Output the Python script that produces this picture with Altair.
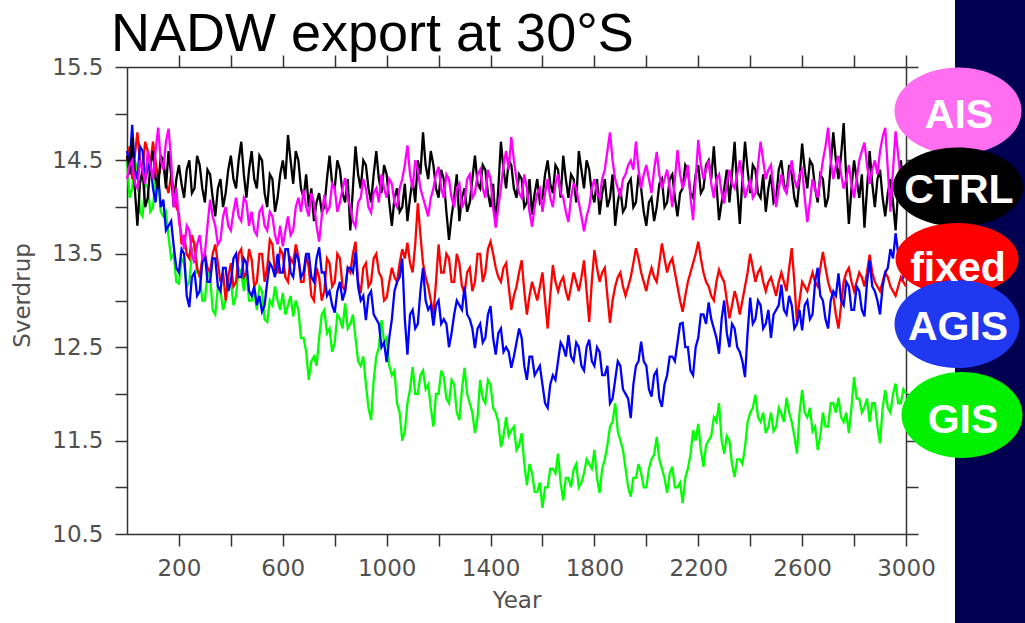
import altair as alt
import pandas as pd

# ---------------- data (Sverdrup, every 10 model years) ----------------
YEARS = list(range(0, 3001, 10))

CTRL = [
    14.55, 14.35, 14.75, 14.2, 13.8, 14.25, 14.4, 14.0, 14.1, 14.45, 14.6, 14.3, 14.2, 14.55, 14.5, 14.2, 14.6, 14.35, 14.0, 14.3,
    14.45, 14.25, 14.1, 14.4, 14.5, 14.15, 14.2, 14.55, 14.45, 14.2, 14.05, 14.4, 14.35, 14.1, 13.9, 14.2, 14.3, 14.0, 14.15, 14.4,
    14.55, 14.3, 14.2, 14.5, 14.7, 14.35, 14.1, 14.4, 14.6, 14.3, 14.2, 14.55, 14.5, 14.15, 14.0, 14.35, 14.3, 13.95, 14.1, 14.35,
    14.5, 14.3, 14.77, 14.5, 14.25, 14.6, 14.5, 14.2, 14.1, 14.35, 14.0, 14.2, 13.85, 14.05, 14.15, 13.95, 14.0, 14.3, 14.55, 14.25,
    14.2, 14.5, 14.4, 14.15, 14.05, 14.3, 13.75, 14.2, 14.65, 14.35, 14.2, 14.5, 14.45, 14.2, 14.05, 14.35, 14.6, 14.3, 14.15, 14.45,
    14.35, 14.05, 13.8, 14.1, 14.2, 13.95, 14.0, 14.25, 13.85, 14.1, 14.3, 14.05, 14.5, 14.35, 14.8, 14.45, 14.3, 14.6, 14.45, 14.2,
    14.1, 14.4, 14.3, 13.95, 13.65, 13.9, 14.1, 14.35, 13.85, 14.1, 14.2, 13.95, 14.05, 14.3, 14.55, 14.25, 14.2, 14.45, 14.4, 14.15,
    14.0, 14.25, 13.8, 14.2, 14.7, 14.4, 14.2, 14.5, 14.45, 14.2, 14.1, 14.35, 14.3, 14.0, 14.05, 14.3, 13.92, 14.15, 14.3, 14.05,
    14.1, 14.35, 14.5, 14.25, 14.15, 14.45, 14.4, 14.1, 14.55, 14.3, 14.1, 14.35, 14.3, 14.05, 14.6, 14.4, 14.2, 14.5, 14.4, 14.15,
    14.05, 14.3, 13.92, 14.15, 14.3, 14.0, 14.1, 14.35, 13.8, 14.05, 14.2, 13.95, 14.0, 14.25, 14.3, 14.0, 14.05, 14.35, 14.2, 13.95,
    13.8, 14.05, 14.1, 13.85, 14.0, 14.25, 14.3, 14.0, 14.05, 14.3, 14.35, 14.1, 13.9, 14.15, 14.2, 14.45, 14.4, 14.15, 14.1, 14.35,
    14.45, 14.15, 14.2, 14.45, 14.5, 14.3, 14.65, 14.25, 13.86, 14.05, 14.2, 14.4, 14.05, 14.35, 14.7, 14.2, 13.82, 14.3, 14.7, 14.4,
    14.15, 14.45, 14.4, 14.15, 14.1, 14.35, 13.95, 14.2, 14.35, 14.05, 14.1, 14.4, 14.5, 14.25, 14.15, 14.45, 14.35, 14.1, 14.0, 14.3,
    14.68, 14.4, 14.2, 14.5, 14.45, 14.2, 14.05, 14.35, 14.3, 14.0, 14.1, 14.45, 14.8, 14.5, 14.3, 14.55, 14.9, 14.3, 13.82, 14.2,
    14.5, 14.3, 14.1, 14.35, 13.78, 14.2, 14.6, 14.25, 14.0, 14.3, 14.4, 14.1, 13.9, 14.15, 14.3, 14.05, 13.75, 14.2, 14.5, 14.25,
    14.2,
]

AIS = [
    14.3, 14.45, 14.5, 14.25, 14.2, 14.5, 14.4, 14.25, 14.6, 14.45, 14.3, 14.6, 14.85, 14.5, 14.4, 14.7, 14.84, 14.5, 14.0, 14.2,
    13.85, 13.7, 13.55, 13.8, 13.75, 13.5, 13.4, 13.6, 13.7, 13.45, 13.5, 13.8, 14.08, 13.9, 13.8, 13.6, 13.65, 13.9, 14.0, 13.8,
    13.75, 13.95, 14.1, 13.9, 13.85, 14.1, 14.05, 13.8, 13.95, 13.75, 13.7, 13.95, 14.0, 13.8, 13.75, 13.95, 13.9, 13.7, 13.6, 13.8,
    13.58, 13.75, 13.9, 13.7, 13.75, 14.0, 14.1, 13.95, 14.18, 14.0, 13.9, 14.15, 14.05, 13.8, 13.63, 13.9, 14.13, 13.95, 14.0, 14.25,
    14.2, 13.95, 14.05, 14.2, 14.31, 14.1, 14.0, 13.85, 13.79, 14.05, 14.1, 14.3, 14.2, 14.0, 13.94, 14.15, 14.2, 14.05, 14.35, 14.2,
    14.1, 14.3, 14.25, 14.05, 14.0, 14.2, 14.3, 14.45, 14.66, 14.35, 14.2, 14.5, 14.4, 14.2, 14.1, 14.0, 13.9, 14.1, 14.2, 14.35,
    14.43, 14.2, 14.1, 14.35, 14.3, 14.1, 14.0, 14.2, 14.25, 14.0, 14.06, 14.3, 14.35, 14.1, 14.15, 14.35, 14.4, 14.2, 14.1, 14.4,
    14.3, 14.0, 13.78, 14.0, 14.2, 14.45, 14.6, 14.4, 14.75, 14.5, 14.3, 14.15, 14.1, 14.35, 14.2, 13.95, 13.79, 14.0, 14.15, 14.2,
    13.95, 14.15, 14.3, 14.1, 14.0, 14.25, 14.35, 14.15, 14.1, 13.95, 13.84, 14.1, 14.25, 14.2, 14.05, 13.9, 13.74, 13.9, 14.0, 14.2,
    14.3, 14.15, 14.1, 14.3, 14.4, 14.6, 14.8, 14.5, 14.3, 14.2, 14.11, 14.3, 14.35, 14.45, 14.5, 14.4, 14.7, 14.4, 14.2, 14.35,
    14.45, 14.3, 14.15, 14.4, 14.59, 14.35, 14.2, 14.3, 14.4, 14.2, 14.0, 14.3, 14.61, 14.35, 14.2, 14.3, 14.45, 14.1, 13.86, 14.3,
    14.72, 14.45, 14.3, 14.4, 14.5, 14.25, 14.1, 14.3, 14.35, 14.15, 14.04, 14.25, 14.4, 14.25, 14.2, 14.35, 14.5, 14.3, 14.1, 14.2,
    14.3, 14.1, 14.15, 14.45, 14.7, 14.5, 14.3, 14.4, 14.45, 14.2, 14.0, 14.2, 14.35, 14.2, 14.15, 14.35, 14.5, 14.3, 14.2, 14.35,
    14.4, 14.1, 13.84, 14.05, 14.3, 14.2, 14.1, 14.3, 14.5, 14.65, 14.85, 14.5, 14.3, 14.45, 14.55, 14.35, 14.2, 14.3, 14.45, 14.25,
    14.1, 14.3, 14.5, 14.6, 14.69, 14.45, 14.25, 14.4, 14.5, 14.35, 14.6, 14.75, 14.85, 14.4, 13.95, 14.4, 14.81, 14.55, 14.3, 14.35,
    14.45,
]

FIXED = [
    14.5, 14.65, 14.3, 14.55, 14.8, 14.5, 14.4, 14.7, 14.6, 14.45, 14.7, 14.5, 14.3, 14.45, 14.5, 14.25, 14.15, 14.35, 14.2, 14.0,
    13.93, 13.6, 13.7, 13.5, 13.45, 13.7, 13.6, 13.35, 13.25, 13.45, 13.5, 13.35, 13.3, 13.5, 13.6, 13.4, 13.2, 13.3, 13.0, 13.25,
    13.4, 13.15, 13.2, 13.5, 13.55, 13.25, 13.3, 13.55, 13.44, 13.15, 13.2, 13.5, 13.5, 13.2, 13.35, 13.65, 13.6, 13.3, 13.3, 13.55,
    13.5, 13.25, 13.2, 13.45, 13.4, 13.6, 13.47, 13.2, 13.2, 13.5, 13.35, 13.05, 13.0, 13.35, 13.25, 13.0, 13.1, 13.45, 13.4, 13.15,
    13.2, 13.5, 13.45, 13.15, 13.1, 13.35, 13.3, 13.5, 13.63, 13.2, 13.08, 13.35, 13.4, 13.15, 13.2, 13.45, 13.5, 13.3, 13.25, 13.0,
    13.03, 13.2, 13.35, 13.25, 13.2, 13.4, 13.55, 13.45, 13.62, 13.4, 13.3, 13.6, 14.04, 13.7, 13.4, 13.25, 13.15, 13.0, 12.85, 13.2,
    13.6, 13.3, 13.3, 13.5, 13.45, 13.2, 13.2, 13.5, 13.4, 13.15, 13.08, 13.3, 13.35, 13.1, 13.2, 13.5, 13.5, 13.2, 13.3, 13.55,
    13.63, 13.5, 13.35, 13.25, 13.2, 13.35, 13.4, 13.15, 12.9, 13.05, 13.15, 13.3, 13.43, 13.1, 12.85, 13.05, 13.2, 13.1, 13.0, 13.15,
    13.3, 13.0, 12.7, 13.05, 13.38, 13.2, 13.1, 13.2, 13.25, 13.1, 13.0, 13.15, 13.3, 13.2, 13.1, 13.25, 13.43, 13.1, 12.77, 13.2,
    13.54, 13.35, 13.2, 13.3, 13.35, 13.05, 12.76, 13.0, 13.15, 13.25, 13.3, 13.15, 13.05, 13.15, 13.25, 13.4, 13.56, 13.45, 13.3, 13.2,
    13.1, 13.25, 13.35, 13.25, 13.2, 13.4, 13.61, 13.45, 13.3, 13.4, 13.45, 13.3, 13.15, 13.0, 12.88, 13.05, 13.2, 13.3, 13.4, 13.5,
    13.63, 13.45, 13.3, 13.2, 13.15, 13.05, 13.0, 13.2, 13.33, 13.25, 13.2, 13.0, 12.81, 12.95, 13.1, 13.0, 12.85, 13.0, 13.15, 13.3,
    13.5, 13.35, 13.2, 13.3, 13.35, 13.2, 13.1, 13.2, 13.25, 13.15, 13.05, 13.2, 13.3, 13.2, 13.1, 13.35, 13.56, 13.2, 12.77, 13.0,
    13.2, 13.15, 13.1, 13.2, 13.3, 13.2, 13.15, 13.35, 13.52, 13.35, 13.2, 13.1, 13.05, 12.85, 12.7, 12.95, 13.2, 13.3, 13.35, 13.2,
    13.1, 13.2, 13.3, 13.25, 13.15, 13.3, 13.49, 13.3, 13.2, 13.15, 13.1, 13.2, 13.3, 13.25, 13.15, 13.1, 13.05, 13.15, 13.25, 13.2,
    13.15,
]

AGIS = [
    14.6, 14.45, 14.88, 14.4, 14.3, 14.65, 14.6, 14.3, 14.4, 14.5, 14.2, 14.05, 14.35, 14.0, 14.08, 13.75, 13.8, 13.85, 13.58, 13.35,
    13.3, 13.55, 13.5, 13.05, 12.93, 13.25, 13.3, 13.05, 13.1, 13.4, 13.5, 13.2, 13.2, 13.45, 13.45, 13.15, 13.1, 13.35, 13.35, 13.1,
    13.2, 13.45, 13.5, 13.25, 13.25, 13.45, 13.4, 13.1, 13.05, 13.15, 12.95, 13.05, 12.88, 12.95, 13.2, 13.4, 13.35, 13.25, 13.5, 13.3,
    13.3, 13.55, 13.55, 13.3, 13.25, 13.5, 13.45, 13.25, 13.3, 13.5, 13.5, 13.25, 13.2, 13.45, 13.57, 13.3, 13.3, 13.05, 13.1, 12.95,
    12.87, 13.1, 13.2, 13.0, 13.1, 13.35, 13.35, 13.3, 13.52, 13.15, 13.0, 13.05, 12.79, 13.05, 13.1, 12.85, 12.8, 12.75, 12.5, 12.55,
    12.34, 12.6, 12.8, 13.1, 13.2, 13.25, 13.45, 12.8, 12.42, 12.85, 12.9, 12.7, 12.75, 13.1, 13.35, 13.0, 12.9, 12.95, 12.73, 12.95,
    13.0, 12.75, 12.8, 12.75, 12.5, 12.65, 12.85, 13.0, 12.95, 12.9, 13.15, 12.85, 12.8, 12.7, 12.49, 12.7, 12.75, 12.55, 12.6, 12.85,
    12.94, 12.6, 12.42, 12.65, 12.7, 12.45, 12.5, 12.45, 12.28, 12.4, 12.55, 12.7, 12.6, 12.3, 12.15, 12.4, 12.4, 12.2, 12.25, 12.3,
    12.1, 11.9, 11.85, 12.1, 12.2, 12.15, 12.35, 12.55, 12.5, 12.4, 12.63, 12.4, 12.35, 12.55, 12.5, 12.3, 12.25, 12.5, 12.58, 12.35,
    12.3, 12.5, 12.45, 12.2, 12.2, 12.3, 11.9, 11.95, 12.15, 12.35, 12.3, 12.05, 12.0, 11.95, 11.74, 12.1, 12.3, 12.35, 12.56, 12.35,
    12.3, 12.05, 11.97, 12.2, 12.25, 11.95, 11.86, 12.1, 12.2, 12.4, 12.4, 12.35, 12.55, 12.75, 12.76, 12.5, 12.5, 12.25, 12.2, 12.5,
    12.6, 12.85, 12.85, 12.75, 12.98, 12.8, 12.7, 12.6, 12.43, 12.8, 13.0, 12.65, 12.5, 12.75, 12.7, 12.5, 12.45, 12.35, 12.18, 12.65,
    13.03, 12.75, 12.8, 13.0, 12.95, 12.7, 12.75, 12.9, 12.6, 12.85, 12.9, 12.95, 13.17, 12.9, 12.85, 13.05, 12.95, 12.7, 12.75, 12.9,
    12.68, 12.95, 13.0, 12.8, 12.85, 13.2, 13.35, 13.05, 13.0, 12.8, 12.7, 13.0, 13.1, 13.05, 13.29, 13.0, 12.95, 13.2, 13.15, 12.9,
    12.9, 13.15, 13.1, 12.9, 12.83, 13.2, 13.43, 13.15, 13.1, 13.0, 12.85, 13.15, 13.3, 13.35, 13.55, 13.45, 13.72, 13.5, 13.5, 13.25,
    13.3,
]

GIS = [
    14.5, 14.1, 14.2, 14.5, 14.4, 13.95, 13.9, 14.25, 14.22, 13.95, 14.0, 14.3, 14.3, 13.95, 13.9, 13.95, 13.68, 13.45, 13.5, 13.2,
    13.18, 13.45, 13.4, 13.15, 13.2, 13.5, 13.6, 13.3, 13.3, 13.0, 13.0, 13.3, 13.25, 12.9, 12.85, 13.15, 13.1, 12.9, 13.0, 13.25,
    13.2, 12.95, 13.05, 13.35, 13.3, 13.1, 13.33, 13.0, 13.0, 13.1, 12.9, 13.15, 13.1, 12.8, 12.77, 13.0, 12.95, 13.15, 13.0, 12.9,
    13.08, 12.85, 12.95, 13.05, 12.83, 13.0, 12.9, 12.6, 12.6, 12.45, 12.15, 12.35, 12.4, 12.3, 12.6, 12.85, 12.9, 12.65, 12.7, 12.45,
    12.55, 12.85, 12.8, 12.7, 12.97, 12.7, 12.75, 12.85, 12.6, 12.35, 12.3, 12.4, 12.1, 11.85, 11.72, 12.15, 12.4, 12.5, 12.79, 12.55,
    12.6, 12.3, 12.2, 12.25, 11.9, 11.8, 11.5, 11.6, 11.9, 12.05, 12.29, 12.0, 12.0, 12.2, 12.25, 12.05, 12.1, 11.85, 11.65, 12.0,
    12.0, 12.25, 12.18, 11.95, 11.9, 12.15, 12.1, 11.8, 11.72, 12.05, 12.28, 12.0, 11.9, 11.8, 11.58, 11.75, 12.15, 11.95, 11.9, 12.15,
    12.1, 11.85, 11.8, 11.7, 11.43, 11.55, 11.75, 11.55, 11.61, 11.65, 11.4, 11.45, 11.58, 11.25, 11.02, 11.25, 11.15, 10.95, 10.95, 11.05,
    10.78, 11.0, 11.0, 11.2, 11.2, 11.15, 11.36, 11.05, 10.86, 11.1, 11.1, 11.0, 11.19, 11.25, 11.0, 11.05, 11.15, 11.3, 11.25, 11.2,
    11.4, 11.1, 10.94, 11.2, 11.3, 11.45, 11.65, 11.7, 11.9, 11.6, 11.5, 11.4, 11.2, 11.0, 10.9, 11.1, 11.1, 11.25, 11.15, 11.0,
    11.0, 11.2, 11.3, 11.35, 11.54, 11.3, 11.2, 11.1, 10.94, 11.15, 11.22, 11.0, 11.0, 11.05, 10.83, 11.1, 11.2, 11.35, 11.61, 11.5,
    11.68, 11.4, 11.22, 11.45, 11.5, 11.55, 11.75, 11.7, 11.9, 11.5, 11.36, 11.55, 11.5, 11.25, 11.11, 11.3, 11.3, 11.25, 11.43, 11.7,
    11.8, 11.85, 11.99, 11.75, 11.7, 11.8, 11.58, 11.65, 11.8, 11.6, 11.65, 11.85, 11.79, 11.7, 11.96, 11.8, 11.7, 11.55, 11.36, 11.8,
    12.04, 11.8, 11.75, 11.85, 11.6, 11.65, 11.4, 11.55, 11.8, 11.65, 11.65, 11.9, 11.9, 11.8, 11.96, 11.75, 11.7, 11.8, 11.58, 11.85,
    12.18, 11.95, 11.95, 11.8, 11.86, 11.95, 11.7, 11.9, 11.9, 11.65, 11.47, 11.85, 12.04, 11.85, 11.8, 12.0, 12.11, 11.9, 11.9, 12.05,
    12.0,
]

SERIES = {"GIS": GIS, "fixed": FIXED, "AGIS": AGIS, "CTRL": CTRL, "AIS": AIS}
LINE_COLORS = {"GIS": "#00ff00", "fixed": "#ff0000", "AGIS": "#0000ff",
               "CTRL": "#000000", "AIS": "#ff00ff"}

X_TICKS = list(range(200, 3001, 200))
Y_TICKS = [10.5, 11.0, 11.5, 12.0, 12.5, 13.0, 13.5, 14.0, 14.5, 15.0, 15.5]

rows = []
for name, vals in SERIES.items():
    assert len(vals) == len(YEARS), (name, len(vals))
    for yr, v in zip(YEARS, vals):
        rows.append({"year": yr, "sverdrup": v, "run": name})
df = pd.DataFrame(rows)

# ---------------- layout ----------------
W, H = 779, 467
PAD = {"left": 127, "top": 67, "right": 1025 - 127 - W, "bottom": 623 - 67 - H}

xs = alt.Scale(domain=[0, 3000], nice=False, zero=False)
ys = alt.Scale(domain=[10.5, 15.5], nice=False, zero=False)

AX = dict(domainColor="#333333", tickColor="#333333", domainWidth=1.5,
          tickWidth=1.5, tickSize=12, grid=False,
          labelFont="DejaVu Sans", labelFontSize=23, labelColor="#505050",
          titleFont="DejaVu Sans", titleFontSize=23, titleColor="#505050",
          titleFontWeight="normal")

x_bottom = alt.Axis(orient="bottom", values=X_TICKS, format="d",
                    labelExpr="(datum.value - 200) % 400 == 0 ? datum.label : ''",
                    labelPadding=11, labelFlush=False, labelOverlap=False,
                    title="Year", titleX=W / 2, titleY=66,
                    titleBaseline="middle", titleAlign="center", **AX)
y_left = alt.Axis(orient="left", values=Y_TICKS, format=".1f",
                  labelExpr="datum.value % 1 != 0 ? datum.label : ''",
                  labelPadding=12, labelFlush=False, labelOverlap=False,
                  title="Sverdrup", titleX=-105, titleY=228, titleAngle=270,
                  titleBaseline="middle", titleAlign="center", **AX)
x_top = alt.Axis(orient="top", values=X_TICKS, labels=False, title=None, **AX)
y_right = alt.Axis(orient="right", values=Y_TICKS, labels=False, title=None, **AX)

layers = []

# dark band on the right
layers.append(
    alt.Chart(alt.Data(values=[{}])).mark_rect(color="#000050").encode(
        x=alt.value(828), x2=alt.value(898), y=alt.value(-67), y2=alt.value(556))
)

# series lines
first = True
for name in ["GIS", "fixed", "AGIS", "CTRL", "AIS"]:
    if first:
        xe = alt.X("year:Q", scale=xs, axis=x_bottom)
        ye = alt.Y("sverdrup:Q", scale=ys, axis=y_left)
        first = False
    else:
        xe = alt.X("year:Q", scale=xs, axis=None)
        ye = alt.Y("sverdrup:Q", scale=ys, axis=None)
    layers.append(
        alt.Chart(df).transform_filter(alt.datum.run == name)
        .mark_line(color=LINE_COLORS[name], strokeWidth=2.3, strokeJoin="miter")
        .encode(x=xe, y=ye)
    )

# invisible layer carrying the top and right frame axes
layers.append(
    alt.Chart(df).transform_filter(alt.datum.run == "CTRL")
    .mark_line(strokeOpacity=0)
    .encode(x=alt.X("year:Q", scale=xs, axis=x_top),
            y=alt.Y("sverdrup:Q", scale=ys, axis=y_right))
)

# legend ellipses (right side)
LEGEND = ["AIS", "CTRL", "fixed", "AGIS", "GIS"]
LEG_FILL = {"AIS": "#ff6ef0", "CTRL": "#000000", "fixed": "#ff0000",
            "AGIS": "#2038f0", "GIS": "#00f000"}
LEG_CENTER = {"AIS": (831, 44), "CTRL": (831, 120), "fixed": (830, 192),
              "AGIS": (830, 257), "GIS": (835, 348)}
LEG_SIZE = {"AIS": (127, 87), "CTRL": (130, 79), "fixed": (123, 72),
            "AGIS": (125, 88), "GIS": (121, 86)}
LEG_TEXT_BASE = {"AIS": 61, "CTRL": 136, "fixed": 214, "AGIS": 273, "GIS": 366}


def ellipse_path(k):
    c = 0.5523
    return (f"M -1 0 C -1 {-c*k:.4f} {-c:.4f} {-k:.4f} 0 {-k:.4f} "
            f"C {c:.4f} {-k:.4f} 1 {-c*k:.4f} 1 0 "
            f"C 1 {c*k:.4f} {c:.4f} {k:.4f} 0 {k:.4f} "
            f"C {-c:.4f} {k:.4f} -1 {c*k:.4f} -1 0 Z")


for name in LEGEND:
    cx, cy = LEG_CENTER[name]
    w, h = LEG_SIZE[name]
    layers.append(
        alt.Chart(alt.Data(values=[{}])).mark_point(
            shape=ellipse_path(h / w), filled=True, fill=LEG_FILL[name],
            opacity=1, strokeWidth=0, size=w * w)
        .encode(x=alt.value(cx), y=alt.value(cy))
    )
for name in LEGEND:
    cx, _ = LEG_CENTER[name]
    layers.append(
        alt.Chart(alt.Data(values=[{}])).mark_text(
            text=name, font="Liberation Sans", fontWeight="bold", fontSize=41,
            color="white", align="center", baseline="alphabetic")
        .encode(x=alt.value(cx + 1), y=alt.value(LEG_TEXT_BASE[name]))
    )

# title
layers.append(
    alt.Chart(alt.Data(values=[{}])).mark_text(
        text="NADW export at 30°S", font="Liberation Sans", fontSize=54,
        color="black", align="left", baseline="alphabetic")
    .encode(x=alt.value(-16), y=alt.value(-16))
)

chart = (
    alt.layer(*layers)
    .resolve_axis(x="independent", y="independent")
    .properties(width=W, height=H, padding=PAD,
                autosize=alt.AutoSizeParams(type="none"), background="white")
    .configure_view(stroke=None)
)

chart.save("out.html", embed_options={"renderer": "svg", "actions": False})
